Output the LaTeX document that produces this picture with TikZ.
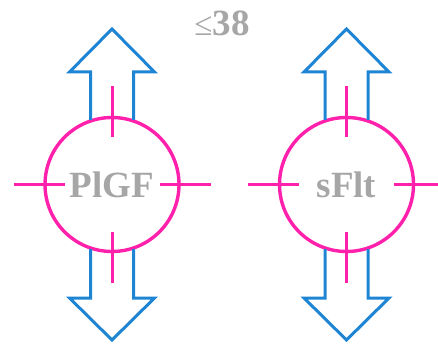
\documentclass[tikz,border=0pt]{standalone}
\usepackage{fontspec}
\setmainfont{Liberation Serif}
\usetikzlibrary{calc}
\definecolor{pinkc}{RGB}{255,32,172}
\definecolor{bluec}{RGB}{30,132,212}
\definecolor{grayc}{RGB}{166,166,166}
\tikzset{
  x=1pt,y=1pt,
  ring/.style={circle,draw=pinkc,line width=3.4pt,minimum size=134pt,inner sep=0pt,
    text=grayc,font=\fontsize{37}{40}\selectfont\bfseries},
  arrowline/.style={draw=bluec,line width=3pt,line join=miter},
  tick/.style={draw=pinkc,line width=3pt},
}
\begin{document}
\begin{tikzpicture}
\useasboundingbox (0,0) rectangle (438,-344);
\node[text=grayc,font=\fontsize{37}{40}\selectfont] (T) at (222,-23)
  {\fontsize{33}{36}\selectfont ≤\fontsize{37}{40}\selectfont\bfseries 38};
\foreach \n/\cx/\lab in {A/112/PlGF,B/346.5/sFlt}{
  \node[ring] (\n) at (\cx,-184.5) {\lab};
  % up arrow
  \draw[arrowline] ($(\n)+(-21.5,64.5)$) -- ($(\n)+(-21.5,112.5)$) -- ($(\n)+(-42.5,112.5)$)
     -- ($(\n)+(0,155.5)$) -- ($(\n)+(42.5,112.5)$) -- ($(\n)+(21.5,112.5)$) -- ($(\n)+(21.5,64.5)$);
  % down arrow
  \draw[arrowline] ($(\n)+(-21.5,-64.5)$) -- ($(\n)+(-21.5,-113.5)$) -- ($(\n)+(-42.5,-113.5)$)
     -- ($(\n)+(0,-155.5)$) -- ($(\n)+(42.5,-113.5)$) -- ($(\n)+(21.5,-113.5)$) -- ($(\n)+(21.5,-64.5)$);
  % ticks
  \draw[tick] ($(\n)+(0,47.5)$) -- ($(\n)+(0,98.5)$);
  \draw[tick] ($(\n)+(0,-47.5)$) -- ($(\n)+(0,-98.5)$);
  \draw[tick] ($(\n)+(-47.5,0)$) -- ($(\n)+(-98.5,0)$);
  \draw[tick] ($(\n)+(47.5,0)$) -- ($(\n)+(98.5,0)$);
}
\end{tikzpicture}
\end{document}
